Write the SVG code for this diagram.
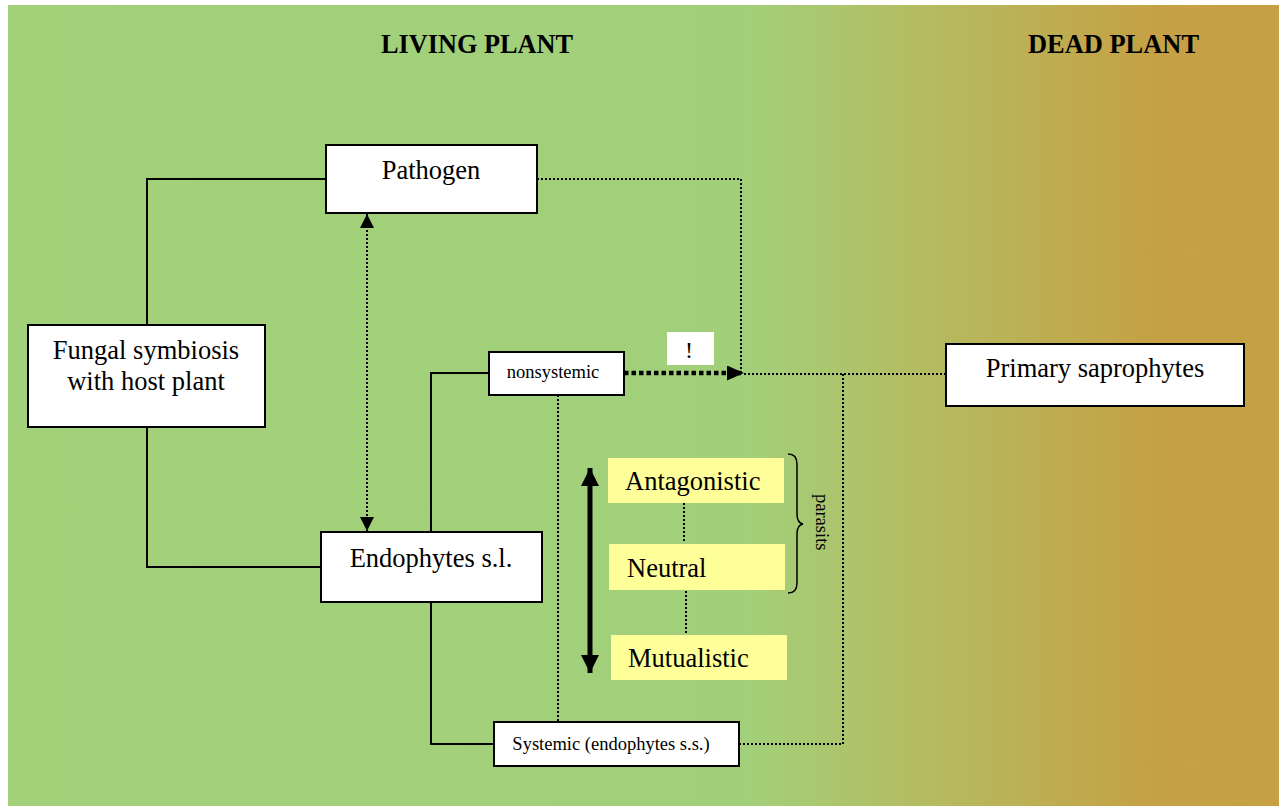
<svg xmlns="http://www.w3.org/2000/svg" width="1279" height="806" viewBox="0 0 1279 806">
<defs>
<linearGradient id="bg" x1="0" y1="0" x2="1279" y2="0" gradientUnits="userSpaceOnUse">
<stop offset="0" stop-color="#A2D17A"/>
<stop offset="0.58" stop-color="#A2D07A"/>
<stop offset="0.74" stop-color="#B6B95E"/>
<stop offset="0.9" stop-color="#C5A145"/>
<stop offset="1" stop-color="#C6A043"/>
</linearGradient>
<marker id="tri" viewBox="0 0 10 10" refX="10" refY="5" markerWidth="14" markerHeight="14" markerUnits="userSpaceOnUse" orient="auto-start-reverse">
<path d="M0,0 L10,5 L0,10 Z" fill="#000"/>
</marker>
<marker id="tribig" viewBox="0 0 10 10" refX="10" refY="5" markerWidth="18" markerHeight="18" markerUnits="userSpaceOnUse" orient="auto-start-reverse">
<path d="M0,0 L10,5 L0,10 Z" fill="#000"/>
</marker>
<marker id="trimid" viewBox="0 0 10 10" refX="10" refY="5" markerWidth="17" markerHeight="15" markerUnits="userSpaceOnUse" orient="auto" preserveAspectRatio="none">
<path d="M0,0 L10,5 L0,10 Z" fill="#000"/>
</marker>
</defs>
<style>
.box{fill:#fff;stroke:#000;stroke-width:2}
.ybox{fill:#FFFF99;stroke:none}
.t{font-family:"Liberation Serif","Times New Roman",serif;fill:#000}
.big{font-size:26.5px}
.small{font-size:18.5px}
.head{font-size:28px;font-weight:bold}
.solid{fill:none;stroke:#000;stroke-width:2}
.dot{fill:none;stroke:#000;stroke-width:2;stroke-dasharray:2 2}
</style>
<rect x="8" y="5" width="1271" height="801" fill="url(#bg)"/>
<text class="t head" x="381" y="53" textLength="192" lengthAdjust="spacingAndGlyphs">LIVING PLANT</text>
<text class="t head" x="1028" y="53" textLength="171" lengthAdjust="spacingAndGlyphs">DEAD PLANT</text>

<g id="connectors">
<polyline class="solid" points="147,325 147,179 325,179"/>
<polyline class="solid" points="147,427 147,567 321,567"/>
<polyline class="solid" points="431,532 431,373 489,373"/>
<polyline class="solid" points="431,602 431,744 494,744"/>
<polyline class="dot" points="537,179 741,179 741,373"/>
<line class="dot" x1="367" y1="214" x2="367" y2="531" marker-start="url(#tri)" marker-end="url(#tri)"/>
<line x1="624" y1="373" x2="744" y2="373" stroke="#000" stroke-width="4.5" stroke-dasharray="4.5 3" marker-end="url(#trimid)"/>
<line class="dot" x1="744" y1="374" x2="946" y2="374"/>
<polyline class="dot" points="843,374 843,744 739,744"/>
<line class="dot" x1="558" y1="395" x2="558" y2="722"/>
<line class="dot" x1="684" y1="503" x2="684" y2="543"/>
<line class="dot" x1="686" y1="591" x2="686" y2="634"/>
<line x1="590" y1="468" x2="590" y2="673" stroke="#000" stroke-width="5" marker-start="url(#tribig)" marker-end="url(#tribig)"/>
<path d="M788,454 Q797,454 797,464 L797,514 Q797,523 803,524 Q797,525 797,534 L797,583 Q797,593 788,593" fill="none" stroke="#000" stroke-width="1.5"/>
</g>

<g id="pathogen">
<rect class="box" x="326" y="145" width="211" height="68"/>
<text class="t big" x="431" y="179" text-anchor="middle">Pathogen</text>
</g>
<g id="fungal">
<rect class="box" x="28" y="325" width="237" height="102"/>
<text class="t big" x="146" y="359" text-anchor="middle">Fungal symbiosis</text>
<text class="t big" x="146" y="390" text-anchor="middle">with host plant</text>
</g>
<g id="endophytes">
<rect class="box" x="321" y="532" width="221" height="70"/>
<text class="t big" x="431" y="567" text-anchor="middle">Endophytes s.l.</text>
</g>
<g id="nonsystemic">
<rect class="box" x="489" y="352" width="135" height="43"/>
<text class="t small" x="553" y="378" text-anchor="middle">nonsystemic</text>
</g>
<g id="systemic">
<rect class="box" x="494" y="722" width="245" height="44"/>
<text class="t small" x="611" y="750" text-anchor="middle">Systemic (endophytes s.s.)</text>
</g>
<g id="saprophytes">
<rect class="box" x="946" y="344" width="298" height="62"/>
<text class="t big" x="1095" y="377" text-anchor="middle">Primary saprophytes</text>
</g>
<g id="exclaim">
<rect x="667" y="332" width="47" height="33" fill="#fff"/>
<text class="t" x="689" y="358" text-anchor="middle" font-size="24">!</text>
</g>
<g id="antagonistic">
<rect class="ybox" x="608" y="458" width="176" height="45"/>
<text class="t big" x="625" y="490">Antagonistic</text>
</g>
<g id="neutral">
<rect class="ybox" x="609" y="544" width="176" height="46"/>
<text class="t big" x="627" y="577">Neutral</text>
</g>
<g id="mutualistic">
<rect class="ybox" x="611" y="635" width="176" height="45"/>
<text class="t big" x="628" y="667">Mutualistic</text>
</g>
<g id="parasits">
<text class="t small" x="0" y="0" transform="translate(816,494) rotate(90)">parasits</text>
</g>
</svg>
